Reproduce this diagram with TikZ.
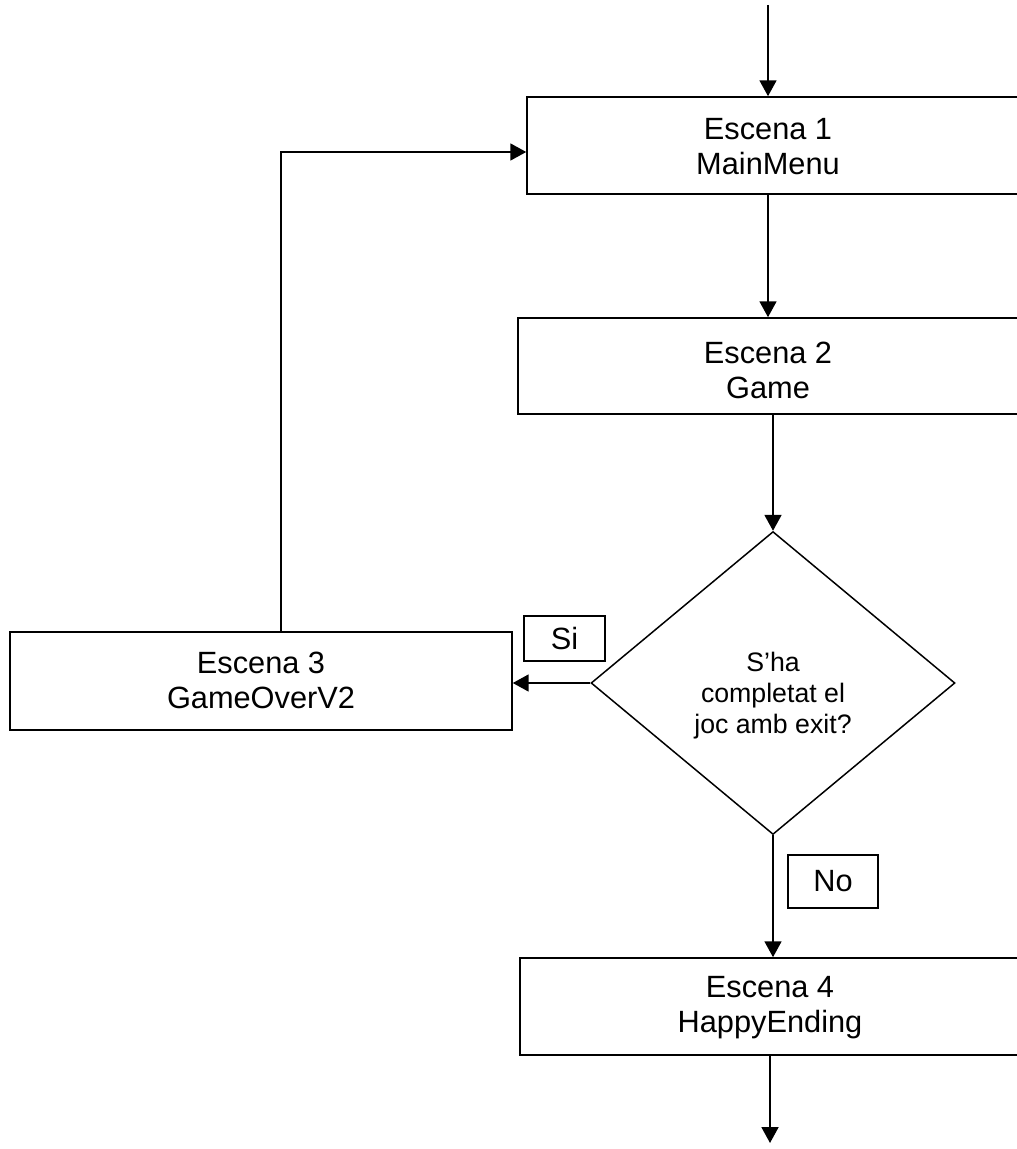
\documentclass[tikz,border=0pt]{standalone}
\usepackage{fontspec}
\setmainfont{Liberation Sans}
\usetikzlibrary{shapes.geometric,arrows.meta}
\begin{document}
\begin{tikzpicture}[x=0.02cm,y=-0.02cm,
  boxshape/.style={draw,line width=0.9pt,rectangle,inner sep=0pt},
  boxtext/.style={align=center,font=\fontsize{17.5}{20}\selectfont,inner sep=0pt},
  labelbox/.style={draw,line width=0.9pt,rectangle,inner sep=0pt,font=\fontsize{17.5}{20}\selectfont},
  decision/.style={draw,line width=0.85pt,diamond,inner sep=0pt},
  dtext/.style={align=center,inner sep=0pt,font=\fontsize{15.2}{17.6}\selectfont},
  flow/.style={line width=1.3pt,-{Triangle[length=9pt,width=9.5pt]}}]
\useasboundingbox (0,0) rectangle (1017,1149);
\clip (0,0) rectangle (1017,1149);
% boxes (right edges run off the page)
\node[boxshape,minimum width=10.26cm,minimum height=1.94cm] (b1) at (783.5,145.5) {};
\node[boxtext] (t1) at (768,147) {Escena 1\\MainMenu};
\node[boxshape,minimum width=10.44cm,minimum height=1.92cm] (b2) at (779,366) {};
\node[boxtext] (t2) at (768,370) {Escena 2\\Game};
\node[boxshape,minimum width=10.04cm,minimum height=1.96cm] (b3) at (261,681) {};
\node[boxtext] (t3) at (261,680) {Escena 3\\GameOverV2};
\node[boxshape,minimum width=10.4cm,minimum height=1.94cm] (b4) at (780,1006.5) {};
\node[boxtext] (t4) at (770,1008) {Escena 4\\HappyEnding};
% decision
\node[decision,minimum width=7.28cm,minimum height=6.06cm] (d) at (773,683) {};
\node[dtext] (dt) at (773,696) {S’ha\\completat el\\joc amb exit?};
% labels
\node[labelbox,minimum width=1.62cm,minimum height=0.9cm] (si) at (564.5,638.5) {Si};
\node[labelbox,minimum width=1.8cm,minimum height=1.06cm] (no) at (833,881.5) {No};
% coordinates
\coordinate (start) at (768,5);
\coordinate (finish) at (770,1143);
\coordinate (lp) at (281,152);
% connectors
\draw[flow] (start) -- (t1 |- b1.north);
\draw[flow] (t1 |- b1.south) -- (t1 |- b2.north);
\draw[flow] (b2.south -| d.north) -- (d.north);
\draw[flow] (d.west) -- (b3.east |- d.west);
\draw[flow] (b3.north -| lp) |- (b1.west |- lp);
\draw[flow] (d.south) -- (b4.north -| d.south);
\draw[flow] (b4.south -| finish) -- (finish);
\end{tikzpicture}
\end{document}
